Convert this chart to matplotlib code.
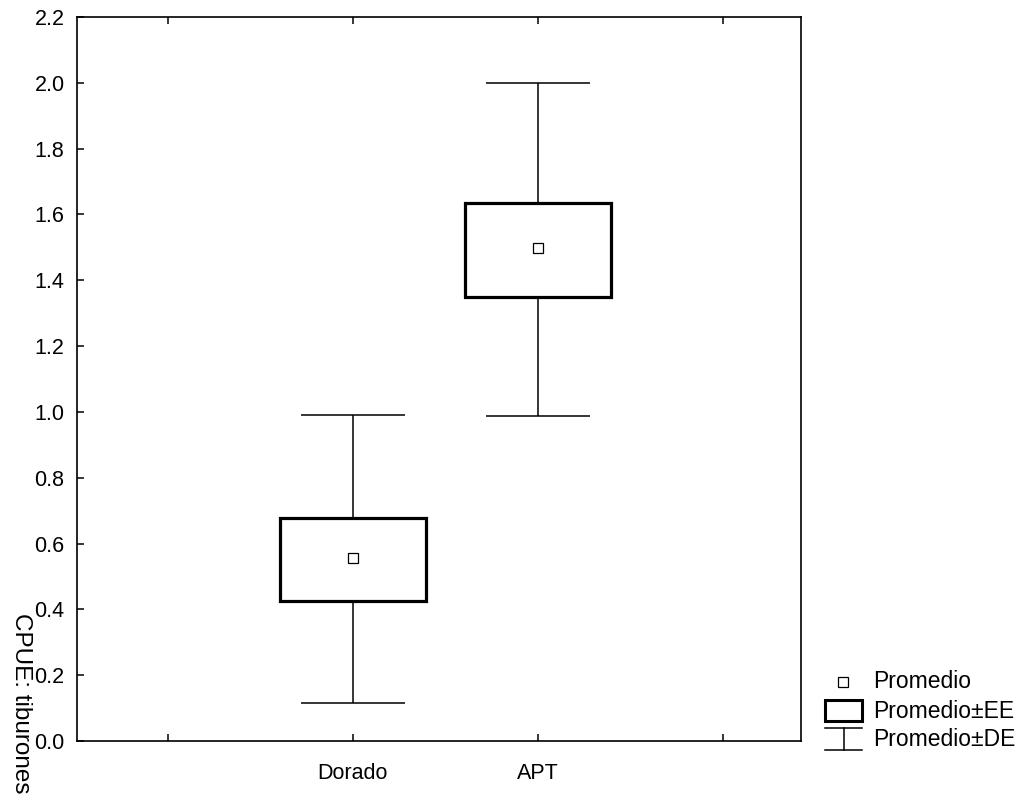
import matplotlib
matplotlib.use("Agg")
import matplotlib.pyplot as plt
from matplotlib.patches import Rectangle
from matplotlib.lines import Line2D

plt.rcParams['font.family'] = ['Liberation Sans', 'DejaVu Sans']

categories = ["Dorado", "APT"]
means = [0.556, 1.498]
se_low = [0.426, 1.349]
se_high = [0.678, 1.635]
sd_low = [0.115, 0.988]
sd_high = [0.991, 1.998]
xtick_labels = ["", "Dorado", "APT", ""]
yticks = [0.0, 0.2, 0.4, 0.6, 0.8, 1.0, 1.2, 1.4, 1.6, 1.8, 2.0, 2.2]

W, H = 1023, 799
fig = plt.figure(figsize=(W / 100, H / 100), dpi=100)
ax = fig.add_axes([77 / W, 1 - 741 / H, (801 - 77) / W, (741 - 17) / H])

positions = [1, 2]
box_w = 0.79
cap_w = 0.56
for x, m, sl, sh, dl, dh in zip(positions, means, se_low, se_high, sd_low, sd_high):
    ax.vlines(x, sh, dh, color='black', lw=1.1, zorder=2)
    ax.vlines(x, dl, sl, color='black', lw=1.1, zorder=2)
    ax.hlines([dl, dh], x - cap_w / 2, x + cap_w / 2, color='black', lw=1.1, zorder=2)
    ax.add_patch(Rectangle((x - box_w / 2, sl), box_w, sh - sl, facecolor='white',
                           edgecolor='black', lw=2.3, zorder=3))
    ax.plot([x], [m], marker='s', markersize=7, markerfacecolor='white',
            markeredgecolor='black', markeredgewidth=0.9, zorder=4, ls='none')

ax.set_xlim(-0.49, 3.42)
ax.set_ylim(0, 2.2)
ax.set_xticks([0, 1, 2, 3])
ax.set_xticklabels(xtick_labels, fontsize=15.5)
ax.set_yticks(yticks)
ax.set_yticklabels([f"{v:.1f}" for v in yticks], fontsize=15.5)
ax.tick_params(direction='in', length=5, width=1.1, top=True, right=False, pad=9)
ax.tick_params(axis='x', pad=16)
for s in ax.spines.values():
    s.set_linewidth(1.2)

fig.text(21 / W, 1 - 613 / H, "CPUE: tiburones", rotation=270, ha='center', va='top',
         fontsize=17.5)

# legend (figure pixel coordinates)
def fx(px):
    return px / W

def fy(py):
    return 1 - py / H

fig.add_artist(Line2D([fx(843)], [fy(682)], marker='s', markersize=7, markerfacecolor='white',
                      markeredgecolor='black', markeredgewidth=0.9, ls='none',
                      transform=fig.transFigure))
fig.add_artist(Rectangle((fx(825), fy(721)), fx(862) - fx(825), fy(700) - fy(721),
                         facecolor='white', edgecolor='black', lw=2.2,
                         transform=fig.transFigure))
fig.add_artist(Line2D([fx(825), fx(862)], [fy(728), fy(728)], color='black', lw=1.1,
                      transform=fig.transFigure))
fig.add_artist(Line2D([fx(825), fx(862)], [fy(750), fy(750)], color='black', lw=1.1,
                      transform=fig.transFigure))
fig.add_artist(Line2D([fx(843.5), fx(843.5)], [fy(728), fy(750)], color='black', lw=1.1,
                      transform=fig.transFigure))
for label, py in [("Promedio", 682), ("Promedio±EE", 711), ("Promedio±DE", 740)]:
    fig.text(fx(873), fy(py), label, ha='left', va='center', fontsize=16.5)

fig.savefig("out.png", dpi=100)
